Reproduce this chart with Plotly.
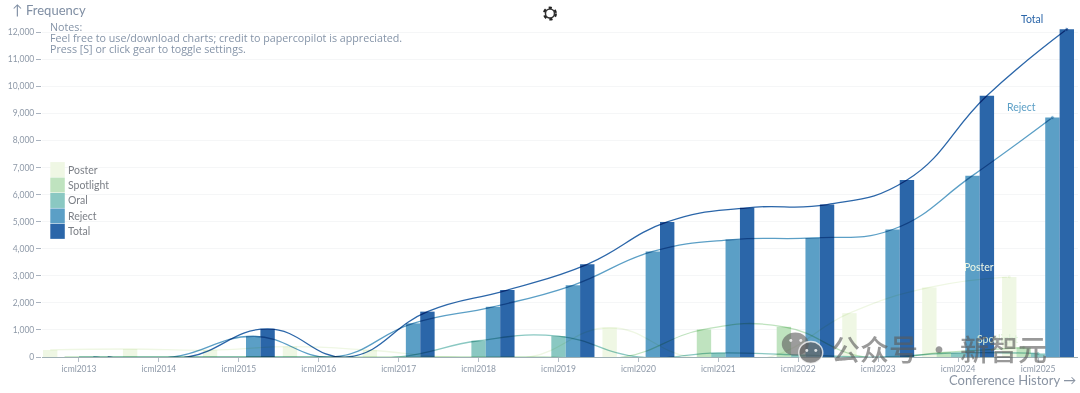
import plotly.graph_objects as go

years = ["icml2013","icml2014","icml2015","icml2016","icml2017","icml2018","icml2019","icml2020","icml2021","icml2022","icml2023","icml2024","icml2025"]
poster    = [260, 295, 250, 380, 250, 0, 0, 1080, 0, 0, 1620, 2570, 2960]
spotlight = [0, 0, 0, 0, 0, 0, 0, 0, 1020, 1115, 0, 170, 350]
oral      = [0, 0, 0, 0, 0, 600, 770, 0, 150, 80, 0, 150, 130]
reject    = [0, 0, 767, 0, 1242, 1855, 2650, 3900, 4340, 4400, 4710, 6700, 8850]
total     = [0, 0, 1037, 0, 1676, 2473, 3424, 4990, 5513, 5630, 6538, 9653, 12107]
names   = ["Poster", "Spotlight", "Oral", "Reject", "Total"]
series  = [poster, spotlight, oral, reject, total]
colors  = ["#eff7e4", "#bfe3bf", "#8ac8c2", "#5b9fc6", "#2b66a9"]
lines   = ["#eff7e4", "#bfe3bf", "#8ac8c2", "#5b9fc6", "#2b66a9"]
yticks  = list(range(0, 13000, 1000))

W, H = 1080, 393
L, R, T, B = 41.7, 1078.4, 27.5, 357.5
BAR = 0.18
px = lambda v: (v - L) / (R - L)
py = lambda v: (B - v) / (B - T)

fig = go.Figure()
xs = list(range(len(years)))
for i, (n, s, c) in enumerate(zip(names, series, colors)):
    fig.add_bar(x=xs, y=s, name=n, width=BAR, offset=-0.45 + i * BAR,
                marker=dict(color=c, line_width=0), cliponaxis=False, showlegend=False)
for i, (n, s, c) in enumerate(zip(names, series, lines)):
    fig.add_scatter(x=[k - 0.36 + i * BAR for k in xs], y=s, mode="lines+markers",
                    line=dict(color=c, width=1.3, shape="spline", smoothing=1.3),
                    marker=dict(size=[0] * (len(xs) - 1) + [4], color=c),
                    cliponaxis=False, showlegend=False, hoverinfo="skip")

ann, shp = [], []
def text(x, y, s, size, color, anchor="left", family="Lato", weight=400):
    ann.append(dict(xref="paper", yref="paper", x=px(x), y=py(y), text=s, showarrow=False,
                    xanchor=anchor, yanchor="middle",
                    font=dict(size=size, color=color, family=family, weight=weight)))

text(10, 9, "↑", 14, "#7f8ea3")
text(24, 9, "Frequency", 13, "#7f8ea3")
text(48, 26, "Notes:", 10.7, "#8594a8", family="Open Sans")
text(48, 37.5, "Feel free to use/download charts; credit to papercopilot is appreciated.", 10.7, "#8594a8", family="Open Sans")
text(48, 49, "Press [S] or click gear to toggle settings.", 10.7, "#8594a8", family="Open Sans")
text(1078, 381, "Conference History →", 13, "#8a94a3", "right")
text(1019, 18, "Total", 10.5, "#2b66a9")
text(1005, 107, "Reject", 10.5, "#5b9fc6")
text(962, 267, "Poster", 10.5, "#eff7e4")
text(975, 339, "Spotlight", 10.5, "#dcefd6")

for i, (n, c) in enumerate(zip(names, colors)):
    y0 = 162 + i * 15.5
    shp.append(dict(type="rect", xref="paper", yref="paper", x0=px(50), x1=px(64.5),
                    y0=py(y0), y1=py(y0 + 15), fillcolor=c, line_width=0))
    text(66, y0 + 7.5, n, 10.5, "#7b7f86")

# settings gear
shp.append(dict(type="circle", xref="paper", yref="paper", x0=px(544.5), x1=px(555.5), y0=py(18.5), y1=py(7.5),
                line=dict(color="#222", width=3, dash="dot"), fillcolor="rgba(0,0,0,0)"))
shp.append(dict(type="circle", xref="paper", yref="paper", x0=px(545.5), x1=px(554.5), y0=py(17.5), y1=py(8.5),
                line=dict(color="#333", width=1.5), fillcolor="#fff"))

# watermark
shp.append(dict(type="circle", xref="paper", yref="paper", x0=px(782), x1=px(809), y0=py(356), y1=py(333),
                fillcolor="rgba(95,95,95,0.62)", line_width=0))
shp.append(dict(type="circle", xref="paper", yref="paper", x0=px(799), x1=px(823), y0=py(364), y1=py(342),
                fillcolor="rgba(95,95,95,0.7)", line=dict(color="rgba(255,255,255,0.75)", width=1.5)))
for cx, cy in [(791, 341), (801, 341), (807, 351), (816, 351)]:
    shp.append(dict(type="circle", xref="paper", yref="paper", x0=px(cx - 1.5), x1=px(cx + 1.5),
                    y0=py(cy + 1.5), y1=py(cy - 1.5), fillcolor="rgba(255,255,255,0.8)", line_width=0))
text(829, 348, "公众号 · 新智元", 29, "rgba(90,90,90,0.62)", family="Noto Sans CJK SC", weight=500)

fig.update_layout(
    width=W, height=H, autosize=False, barmode="overlay", plot_bgcolor="#fff", paper_bgcolor="#fff",
    margin=dict(l=L, r=W - R, t=T, b=H - B, pad=0),
    annotations=ann, shapes=shp,
    xaxis=dict(range=[-0.4625, 12.5], tickmode="array", tickvals=xs, ticktext=years, showgrid=False,
               zeroline=False, showline=True, linecolor="#9fb0b4", linewidth=1, ticks="outside", ticklen=4,
               tickcolor="#b4bcc6", tickfont=dict(size=8.5, color="#8e99a8", family="Lato"), fixedrange=True),
    yaxis=dict(range=[0, (B - T) / 27.15 * 1000], tickmode="array", tickvals=yticks, tickformat=",",
               showgrid=True, gridcolor="#f5f6f7", gridwidth=1, zeroline=False, showline=False,
               ticks="outside", ticklen=5, tickcolor="#aab3bf",
               tickfont=dict(size=8.5, color="#8e99a8", family="Lato"), fixedrange=True),
)
fig.write_html("out.html", config=dict(displayModeBar=False),
               post_script="document.body.style.margin='0';"
                           "document.querySelectorAll('.scatterlayer .trace').forEach(function(e){e.style.mixBlendMode='multiply';});")
